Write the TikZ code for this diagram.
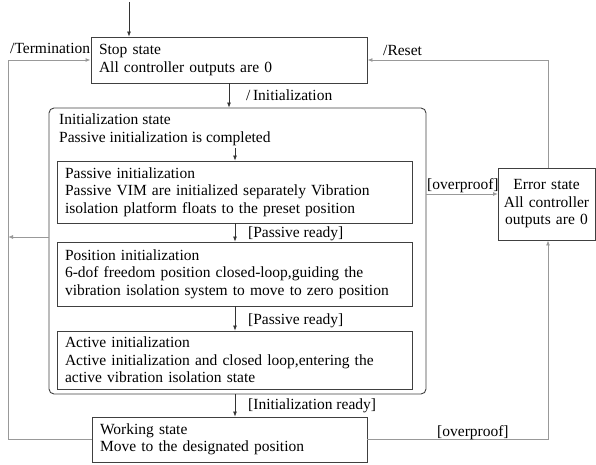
\documentclass[tikz,border=0pt]{standalone}
\usepackage{fontspec}
\setmainfont{Liberation Serif}
\usetikzlibrary{arrows.meta,calc}
\begin{document}
\begin{tikzpicture}[x=1pt,y=-1pt,
  txt/.style={font=\fontsize{15.5}{17.5}\selectfont},
  box/.style={draw=black!75, line width=0.9pt, txt, align=left, inner xsep=8pt, inner ysep=0pt},
  arr/.style={draw=black!80, line width=0.7pt, -{Latex[length=5pt,width=4pt]}},
  garr/.style={draw=black!40, line width=0.9pt, -{Latex[length=5pt,width=4pt]}},
  lab/.style={txt, inner sep=0pt, anchor=base west}]
\useasboundingbox (0,0) rectangle (596,465);

% boxes
\node[box, minimum width=276pt, minimum height=46pt, text width=260pt] (stop) at (229,60)
  {Stop state\\All controller outputs are 0};
\node[draw=black!75, line width=0.9pt, rounded corners=5pt, minimum width=377pt, minimum height=286pt, inner sep=0pt] (init) at (237.5,251) {};
\node[txt, anchor=north west, align=left, inner sep=0pt] (inittxt) at (59,114)
  {Initialization state\\Passive initialization is completed};
\node[box, minimum width=355pt, minimum height=62pt, text width=339pt] (passive) at (234.5,192)
  {Passive initialization\\Passive VIM are initialized separately Vibration\\isolation platform floats to the preset position};
\node[box, minimum width=355pt, minimum height=64pt, text width=339pt] (position) at (234.5,274)
  {Position initialization\\6-dof freedom position closed-loop,guiding the\\vibration isolation system to move to zero position};
\node[box, minimum width=355pt, minimum height=58pt, text width=339pt] (active) at (234.5,360)
  {Active initialization\\Active initialization and closed loop,entering the\\active vibration isolation state};
\node[box, minimum width=275pt, minimum height=45pt, text width=259pt] (working) at (229.5,439.5)
  {Working state\\Move to the designated position};
\node[box, align=center, inner xsep=2pt, minimum width=97pt, minimum height=72pt, text width=93pt] (error) at (546.5,204)
  {Error state\\All controller\\outputs are 0};

% coordinates
\coordinate (start) at (129,2);
\coordinate (c1) at (235,148);
\coordinate (lc) at (8,237);
\coordinate (ll) at (8,60);
\coordinate (rr) at (548,60);
\coordinate (ov) at (498,194);

% inner connectors
\draw[arr] (start) -- (start |- stop.north);
\draw[arr] (stop.south) -- (stop.south |- init.north);
\draw[arr] (c1) -- (c1 |- passive.north);
\draw[arr] (c1 |- passive.south) -- (c1 |- position.north);
\draw[arr] (c1 |- position.south) -- (c1 |- active.north);
\draw[arr] (c1 |- init.south) -- (c1 |- working.north);

% outer connectors
\draw[garr] (init.east |- ov) -- (ov);
\draw[garr] (error.north -| rr) -- (rr) -- (stop.east);
\draw[garr] (working.east) -- (working.east -| rr) -- (error.south -| rr);
\draw[garr] (working.west) -- (working.west -| ll) -- (ll) -- (stop.west);
\draw[garr] (init.west |- lc) -- (lc);

% labels
\node[lab] (lterm) at (10,54) {/Termination};
\node[lab] (lreset) at (383,56) {/Reset};
\node[lab] (linit) at (246,101) {/\,Initialization};
\node[lab] (lpr1) at (248,237) {[Passive ready]};
\node[lab] (lpr2) at (248,324) {[Passive ready]};
\node[lab] (lir) at (248,409) {[Initialization ready]};
\node[lab] (lov1) at (427,189) {[overproof]};
\node[lab] (lov2) at (437,436) {[overproof]};
\end{tikzpicture}
\end{document}
